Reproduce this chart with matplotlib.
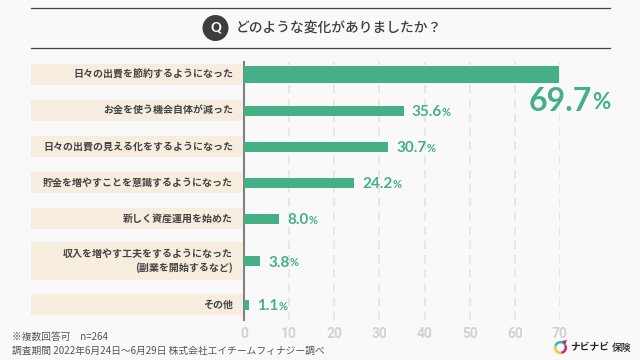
import numpy as np
import matplotlib
matplotlib.use("Agg")
import matplotlib.pyplot as plt
from matplotlib.patches import Circle, Rectangle, Wedge, Polygon

plt.rcParams['font.family'] = ['Noto Sans CJK JP', 'DejaVu Sans']

# data
labels = ["日々の出費を節約するようになった", "お金を使う機会自体が減った",
          "日々の出費の見える化をするようになった", "貯金を増やすことを意識するようになった",
          "新しく資産運用を始めた", "収入を増やす工夫をするようになった\n(副業を開始するなど)", "その他"]
# bar lengths as drawn in the picture, they differ a little from the printed numbers
values = [69.7, 35.4, 31.9, 24.4, 7.8, 3.6, 1.2]
value_labels = ["69.7", "35.6", "30.7", "24.2", "8.0", "3.8", "1.1"]
row_heights = [21, 21, 21, 21, 21, 38, 21]
ticks = [0, 10, 20, 30, 40, 50, 60, 70]

bg = "#f9f9f9"
green = "#45b086"
cream = "#f6eddf"
W, H = 640, 360

fig = plt.figure(figsize=(6.4, 3.6), dpi=100, facecolor=bg)

# overlay in pixel units for the header, footer and logo
over = fig.add_axes([0, 0, 1, 1], zorder=5)
over.set_xlim(0, W)
over.set_ylim(H, 0)
over.axis("off")

# main chart, y axis is in pixels so the taller row fits
ax_l, ax_r, ax_t, ax_b = 244, 560, 62, 320
ax = fig.add_axes([ax_l / W, 1 - ax_b / H, (ax_r - ax_l) / W, (ax_b - ax_t) / H], zorder=1)
ax.set_facecolor("none")
ax.set_xlim(0, 70)
ax.set_ylim(ax_b, ax_t)

# rows
tops = [64]
for h in row_heights[:-1]:
    tops.append(tops[-1] + h + 15)
tops[5] -= 2
tops[6] -= 3
tops = np.array(tops)
row_h = np.array(row_heights)
centers = tops + row_h / 2
bar_h = [17, 10, 10, 10, 10, 10, 10]

for c, h in zip(centers, row_heights):
    over.add_patch(Rectangle((31, c - h / 2), 212, h, fc=cream, ec="none", zorder=1))

ax.set_xticks(ticks)
ax.set_yticks([])
ax.tick_params(axis="x", length=0, labelcolor="#d2d2d2", labelsize=10, pad=5)
for t in ax.get_xticklabels():
    t.set_family("Roboto")
    t.set_fontweight("bold")
for s in ["top", "right", "bottom"]:
    ax.spines[s].set_visible(False)
ax.spines["left"].set_color("#808088")
ax.spines["left"].set_linewidth(1.5)
ax.grid(axis="x", color="#e4e4e4", linewidth=1.2, linestyle=(0, (5, 3.5)))
ax.set_axisbelow(True)

ax.barh(centers, values, height=bar_h, color=green, zorder=3)

# labels to the left of the axis
for c, lab in zip(centers, labels):
    over.text(233, c, lab, ha="right", va="center", fontsize=7.2, fontweight="bold",
              color="#444444", linespacing=1.35, zorder=2)

# value labels: number plus a smaller percent sign
r = fig.canvas.get_renderer()
for i, (c, v, s) in enumerate(zip(centers, values, value_labels)):
    if i == 0:
        x0 = ax.transData.transform((v, 0))[0] - 30
        y0, fs_num, fs_pct = 99, 23, 16
    else:
        x0 = ax.transData.transform((v, 0))[0] + 8
        y0, fs_num, fs_pct = c + 0.5, 11, 8
    t = over.text(x0, y0, s, family="Lato", fontweight="bold", fontsize=fs_num,
                  color=green, ha="left", va="center_baseline", zorder=4)
    e = t.get_window_extent(r)
    over.text(e.x1, y0 + (1.3 if i == 0 else 0.5), "%", family="Lato", fontsize=fs_pct,
              fontweight="bold", color=green, ha="left", va="center_baseline", zorder=4)

# header
over.plot([31, 610], [7.5, 7.5], color="#444444", lw=0.9)
over.plot([31, 610], [48, 48], color="#444444", lw=0.9)
over.add_patch(Circle((215.5, 28), 13, fc="#3f3c3c", ec="none"))
over.text(215.5, 27.5, "Q", family="Lato", fontweight="black", fontsize=9.5, color="white",
          ha="center", va="center")
over.text(236, 28, "どのような変化がありましたか？", fontsize=9.9, fontweight="medium",
          color="#3f3c3c", ha="left", va="center")

# footer
over.text(12, 337, "※複数回答可　n=264", fontsize=7, color="#555555", ha="left", va="center")
over.text(12, 350.5, "調査期間 2022年6月24日～6月29日 株式会社エイチームフィナジー調べ", fontsize=7.05,
          color="#555555", ha="left", va="center")

# logo
lc = (560.5, 347.5)
over.add_patch(Wedge(lc, 6.5, 80, 200, width=2.4, fc="#f4c430", ec="none"))
over.add_patch(Wedge(lc, 6.5, 200, 340, width=2.4, fc="#22b8c4", ec="none"))
over.add_patch(Wedge(lc, 6.5, 340, 440, width=2.4, fc="#d81b60", ec="none"))
over.add_patch(Polygon([(562, 341), (567, 340), (565, 345)], fc="#d81b60", ec="none"))
over.text(570, 347, "ナビナビ", fontsize=7, fontweight="bold", color="#222222", ha="left", va="center")
over.text(611.5, 347.5, "保険", fontsize=7, fontweight="medium", color="#222222", ha="left", va="center")

fig.savefig("out.png", dpi=100, facecolor=bg)
